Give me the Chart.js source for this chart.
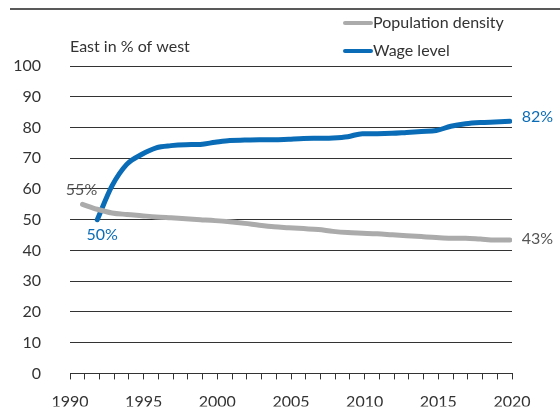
<!DOCTYPE html>
<html>
<head>
<meta charset="utf-8">
<script src="https://cdn.jsdelivr.net/npm/chart.js@4.4.1/dist/chart.umd.min.js"></script>
<style>
  html, body { margin: 0; padding: 0; background: #fff; }
  #wrap { width: 560px; height: 412px; }
</style>
</head>
<body>
<div id="wrap"><canvas id="chart" width="560" height="412"></canvas></div>
<script>
const years = [1990, 1991, 1992, 1993, 1994, 1995, 1996, 1997, 1998, 1999,
  2000, 2001, 2002, 2003, 2004, 2005, 2006, 2007, 2008, 2009,
  2010, 2011, 2012, 2013, 2014, 2015, 2016, 2017, 2018, 2019]
const populationDensity = [55, 53.4, 52.2, 51.7, 51.3, 50.9, 50.6, 50.3, 50.0, 49.7,
  49.3, 48.8, 48.2, 47.7, 47.4, 47.1, 46.8, 46.2, 45.8, 45.6,
  45.4, 45.1, 44.8, 44.5, 44.2, 44.0, 44.0, 43.7, 43.4, 43.4]
const wageLevel = [null, 50, 61, 68, 71.2, 73.4, 74.1, 74.4, 74.5, 75.2,
  75.8, 75.9, 76, 76, 76.2, 76.4, 76.5, 76.6, 77, 78,
  78, 78.1, 78.4, 78.7, 79, 80.4, 81.2, 81.6, 81.8, 82]
const seriesNames = ['Population density', 'Wage level']
const yTicks = [0, 10, 20, 30, 40, 50, 60, 70, 80, 90, 100]
const xTickLabels = [1990, 1995, 2000, 2005, 2010, 2015, 2020]
const axisTitle = 'East in % of west'

// points sit late in each year, between the year ticks
const YEAR_POS = 0.85
const FONT = 'Lato, "Noto Sans", sans-serif'
const GREY = '#ababab'
const BLUE = '#0a6cb6'

const toPoints = vals => vals.map((v, i) => ({ x: years[i] + YEAR_POS, y: v }))

const decor = {
  id: 'decor',
  afterDraw(chart) {
    const c = chart.ctx
    const area = chart.chartArea
    c.save()
    // rule under the (cut-off) heading
    c.strokeStyle = '#222'
    c.lineWidth = 1.5
    c.beginPath()
    c.moveTo(10, 9)
    c.lineTo(560, 9)
    c.stroke()

    c.font = '16px ' + FONT
    c.textBaseline = 'middle'
    c.fillStyle = '#333'
    c.textAlign = 'left'
    c.fillText(axisTitle, area.left, 47)

    // legend, stacked on the right
    chart.data.datasets.forEach((ds, i) => {
      const y = 23 + i * 28
      c.strokeStyle = ds.borderColor
      c.lineWidth = 4
      c.lineCap = 'round'
      c.beginPath()
      c.moveTo(345, y)
      c.lineTo(371, y)
      c.stroke()
      c.fillStyle = '#333'
      c.fillText(ds.label, 373, y)
    })

    // end labels
    const label = (dsIdx, idx, dx, dy, align, color) => {
      const pt = chart.getDatasetMeta(dsIdx).data[idx]
      const v = chart.data.datasets[dsIdx].data[idx].y
      c.fillStyle = color
      c.textAlign = align
      c.fillText(Math.round(v) + '%', pt.x + dx, pt.y + dy)
    }
    const last = years.length - 1
    label(0, 0, -1, -14, 'center', '#555')
    label(1, 1, 5, 15, 'center', BLUE)
    label(1, last, 12, -4, 'left', BLUE)
    label(0, last, 12, -1, 'left', '#555')
    c.restore()
  }
}

new Chart(document.getElementById('chart'), {
  type: 'line',
  data: {
    datasets: [
      {
        label: seriesNames[0],
        data: toPoints(populationDensity),
        borderColor: GREY,
        borderWidth: 5,
        borderCapStyle: 'round',
        borderJoinStyle: 'round',
        cubicInterpolationMode: 'monotone',
        pointRadius: 0,
      },
      {
        label: seriesNames[1],
        data: toPoints(wageLevel),
        borderColor: BLUE,
        borderWidth: 5,
        borderCapStyle: 'round',
        borderJoinStyle: 'round',
        cubicInterpolationMode: 'monotone',
        pointRadius: 0,
      },
    ],
  },
  options: {
    responsive: false,
    animation: false,
    layout: { padding: { top: 66, right: 48, left: 0, bottom: 0 } },
    plugins: {
      legend: { display: false },
      tooltip: { enabled: false },
    },
    scales: {
      x: {
        type: 'linear',
        min: xTickLabels[0],
        max: xTickLabels[xTickLabels.length - 1],
        afterBuildTicks: axis => {
          const t = []
          for (let y = axis.min; y <= axis.max; y++) t.push({ value: y })
          axis.ticks = t
        },
        afterFit: axis => { axis.height = 33 },
        grid: {
          drawOnChartArea: false,
          drawTicks: true,
          tickLength: 6,
          color: '#333',
          lineWidth: 1,
        },
        border: { display: true, color: '#333', width: 1 },
        ticks: {
          autoSkip: false,
          maxRotation: 0,
          padding: 13,
          color: '#333',
          font: { family: FONT, size: 16 },
          callback: v => (xTickLabels.includes(v) ? String(v) : ''),
        },
      },
      y: {
        min: yTicks[0],
        max: yTicks[yTicks.length - 1],
        afterBuildTicks: axis => { axis.ticks = yTicks.map(v => ({ value: v })) },
        afterFit: axis => { axis.width = 70 },
        grid: { color: '#333', lineWidth: 1, drawTicks: false },
        border: { display: false },
        ticks: {
          padding: 29,
          color: '#333',
          font: { family: FONT, size: 16 },
        },
      },
    },
  },
  plugins: [decor],
})
</script>
</body>
</html>
